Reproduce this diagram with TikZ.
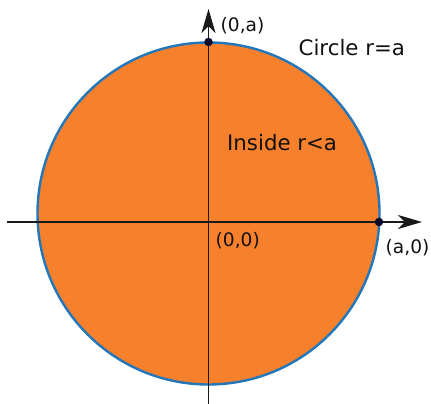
\documentclass[tikz,border=0pt]{standalone}
\usepackage{fontspec}
\setmainfont{DejaVu Sans}
\usetikzlibrary{arrows.meta}
\definecolor{fillorange}{HTML}{F7802C}
\definecolor{rimblue}{HTML}{2277BB}
\definecolor{dotnavy}{HTML}{0A0A2A}
\definecolor{txt}{HTML}{111111}
\tikzset{
  axisline/.style={line width=1.6pt, draw=black!90, -{Stealth[length=24pt,width=14pt,inset=7pt]}},
  bigtext/.style={anchor=base west, inner sep=0pt, text=txt, font=\fontsize{21.3}{24}\selectfont},
  coordtext/.style={anchor=base west, inner sep=0pt, text=txt, font=\fontsize{18.6}{22}\selectfont},
  pointdot/.style={circle, fill=dotnavy, inner sep=0pt, minimum size=8.5pt}
}
\begin{document}
\begin{tikzpicture}[x=1pt,y=1pt]
\useasboundingbox (0,0) rectangle (431,404);
\fill[white] (0,0) rectangle (431,404);
\coordinate (c) at (208.5,190.5);
\filldraw[fill=fillorange, draw=rimblue, line width=2.4pt] (c) circle (171);
\coordinate (xl) at (7,182);
\coordinate (xr) at (422,182);
\coordinate (yb) at (208.5,0);
\coordinate (yt) at (208.5,395);
\draw[axisline] (xl) -- (xr);
\draw[axisline] (yb) -- (yt);
\node[pointdot] (ptop) at (208.5,362) {};
\node[pointdot] (pright) at (379,182) {};
\node[coordtext] (l0a) at (220.5,372.5) {(0,a)};
\node[bigtext] (lcirc) at (298.5,348) {Circle r=a};
\node[bigtext] (lin) at (227,253) {Inside r<a};
\node[coordtext] (l00) at (215.5,157) {(0,0)};
\node[coordtext] (la0) at (385.5,150) {(a,0)};
\end{tikzpicture}
\end{document}
